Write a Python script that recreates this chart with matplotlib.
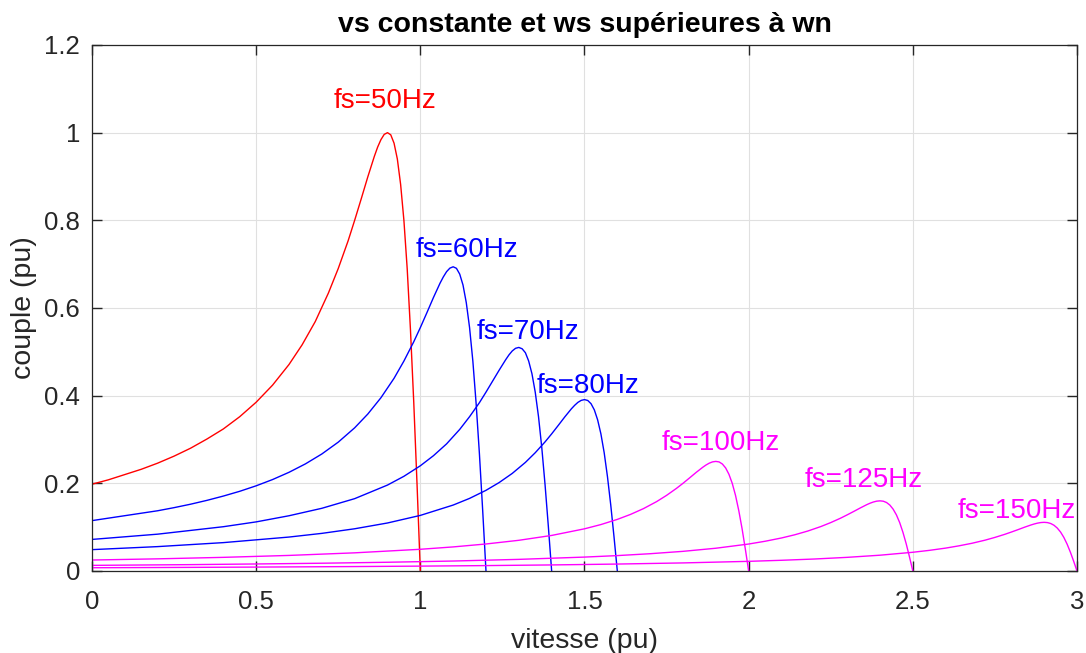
import matplotlib
matplotlib.use("Agg")
import matplotlib.pyplot as plt

# ---- data (speed pu, torque pu) ----
speed_50 = [1.0, 0.99, 0.98, 0.97, 0.96, 0.95, 0.94, 0.93, 0.92, 0.91, 0.90, 0.89, 0.88, 0.87, 0.86, 0.84, 0.82, 0.80, 0.78, 0.75, 0.72, 0.68, 0.64, 0.60, 0.55, 0.50, 0.45, 0.40, 0.35, 0.30, 0.25, 0.20, 0.15, 0.10, 0.05, 0.0]
torque_50 = [0, 0.198, 0.385, 0.550, 0.690, 0.800, 0.882, 0.940, 0.976, 0.995, 1.000, 0.996, 0.984, 0.967, 0.946, 0.899, 0.849, 0.800, 0.753, 0.690, 0.634, 0.569, 0.516, 0.471, 0.424, 0.385, 0.352, 0.324, 0.301, 0.280, 0.262, 0.246, 0.232, 0.220, 0.208, 0.198]

speed_60 = [1.2, 1.19, 1.18, 1.17, 1.16, 1.15, 1.14, 1.13, 1.12, 1.11, 1.10, 1.09, 1.08, 1.07, 1.06, 1.04, 1.02, 1.00, 0.98, 0.95, 0.92, 0.88, 0.84, 0.80, 0.75, 0.70, 0.65, 0.60, 0.55, 0.50, 0.45, 0.40, 0.35, 0.30, 0.25, 0.20, 0.0]
torque_60 = [0, 0.1374, 0.2672, 0.3817, 0.4789, 0.5552, 0.6121, 0.6524, 0.6773, 0.6905, 0.694, 0.6909, 0.6829, 0.6708, 0.6565, 0.6239, 0.5892, 0.5552, 0.5229, 0.4789, 0.4396, 0.3952, 0.3580, 0.3266, 0.2939, 0.2669, 0.2443, 0.2251, 0.2086, 0.1943, 0.1818, 0.1709, 0.1611, 0.1523, 0.1445, 0.1374, 0.1149]

speed_70 = [1.40, 1.39, 1.38, 1.37, 1.36, 1.35, 1.34, 1.33, 1.32, 1.31, 1.30, 1.29, 1.28, 1.27, 1.26, 1.24, 1.22, 1.20, 1.18, 1.15, 1.12, 1.08, 1.04, 1.00, 0.95, 0.90, 0.80, 0.70, 0.60, 0.50, 0.40, 0.20, 0.0]
torque_70 = [0, 0.101, 0.196, 0.281, 0.352, 0.408, 0.450, 0.479, 0.498, 0.507, 0.510, 0.508, 0.502, 0.493, 0.482, 0.458, 0.433, 0.408, 0.384, 0.352, 0.323, 0.290, 0.263, 0.240, 0.216, 0.196, 0.165, 0.143, 0.126, 0.112, 0.101, 0.084, 0.072]

speed_80 = [1.60, 1.59, 1.58, 1.57, 1.56, 1.55, 1.54, 1.53, 1.52, 1.51, 1.50, 1.49, 1.48, 1.47, 1.46, 1.44, 1.42, 1.40, 1.38, 1.35, 1.32, 1.28, 1.24, 1.20, 1.15, 1.10, 1.00, 0.90, 0.80, 0.70, 0.60, 0.40, 0.20, 0.0]
torque_80 = [0, 0.0774, 0.1505, 0.2151, 0.2698, 0.3128, 0.3449, 0.3675, 0.3816, 0.3890, 0.391, 0.3892, 0.3847, 0.3779, 0.3699, 0.3515, 0.3320, 0.3128, 0.2946, 0.2698, 0.2477, 0.2226, 0.2017, 0.1840, 0.1656, 0.1504, 0.1268, 0.1095, 0.0963, 0.0858, 0.0774, 0.0647, 0.0556, 0.0487]

speed_100 = [2.00, 1.99, 1.98, 1.97, 1.96, 1.95, 1.94, 1.93, 1.92, 1.91, 1.90, 1.89, 1.88, 1.87, 1.86, 1.84, 1.82, 1.80, 1.78, 1.75, 1.72, 1.68, 1.64, 1.60, 1.55, 1.50, 1.40, 1.30, 1.20, 1.10, 1.00, 0.80, 0.60, 0.40, 0.20, 0.0]
torque_100 = [0, 0.0495, 0.0963, 0.1375, 0.1725, 0.2, 0.2205, 0.235, 0.244, 0.2488, 0.25, 0.2489, 0.246, 0.2417, 0.2365, 0.2248, 0.2123, 0.2, 0.1884, 0.1725, 0.1584, 0.1424, 0.1290, 0.1177, 0.1059, 0.0962, 0.0811, 0.07, 0.0616, 0.0549, 0.0495, 0.0414, 0.0355, 0.0311, 0.0277, 0.0250]

speed_125 = [2.50, 2.49, 2.48, 2.47, 2.46, 2.45, 2.44, 2.43, 2.42, 2.41, 2.40, 2.39, 2.38, 2.37, 2.36, 2.34, 2.32, 2.30, 2.28, 2.25, 2.22, 2.18, 2.14, 2.10, 2.05, 2.00, 1.90, 1.80, 1.70, 1.60, 1.50, 1.30, 1.10, 0.90, 0.70, 0.50, 0.30, 0.0]
torque_125 = [0, 0.0317, 0.0616, 0.088, 0.1104, 0.128, 0.1411, 0.1504, 0.1562, 0.1592, 0.16, 0.1593, 0.1574, 0.1547, 0.1514, 0.1438, 0.1358, 0.128, 0.1205, 0.1104, 0.1014, 0.0911, 0.0825, 0.0753, 0.0678, 0.0615, 0.0519, 0.0448, 0.0394, 0.0351, 0.0317, 0.0265, 0.0227, 0.0199, 0.0177, 0.0160, 0.0145, 0.0128]

speed_150 = [3.00, 2.99, 2.98, 2.97, 2.96, 2.95, 2.94, 2.93, 2.92, 2.91, 2.90, 2.89, 2.88, 2.87, 2.86, 2.84, 2.82, 2.80, 2.78, 2.75, 2.72, 2.68, 2.64, 2.60, 2.55, 2.50, 2.40, 2.30, 2.20, 2.10, 2.00, 1.80, 1.60, 1.40, 1.20, 1.00, 0.80, 0.50, 0.20, 0.0]
torque_150 = [0, 0.0220, 0.0427, 0.0611, 0.0766, 0.0888, 0.0979, 0.1043, 0.1083, 0.1104, 0.111, 0.1105, 0.1092, 0.1073, 0.1050, 0.0998, 0.0942, 0.0888, 0.0836, 0.0766, 0.0703, 0.0632, 0.0573, 0.0522, 0.0470, 0.0427, 0.0360, 0.0311, 0.0273, 0.0244, 0.0220, 0.0184, 0.0158, 0.0138, 0.0123, 0.0111, 0.0101, 0.0089, 0.0079, 0.0074]

labels = ["fs=50Hz", "fs=60Hz", "fs=70Hz", "fs=80Hz", "fs=100Hz", "fs=125Hz", "fs=150Hz"]
label_x = [0.735, 0.985, 1.17, 1.355, 1.735, 2.17, 2.635]
label_y = [1.072, 0.732, 0.545, 0.422, 0.292, 0.208, 0.137]

x_ticks = [0, 0.5, 1, 1.5, 2, 2.5, 3]
x_tick_labels = ["0", "0.5", "1", "1.5", "2", "2.5", "3"]
y_ticks = [0, 0.2, 0.4, 0.6, 0.8, 1.0, 1.2]
y_tick_labels = ["0", "0.2", "0.4", "0.6", "0.8", "1", "1.2"]

RED = "#ff0000"
BLUE = "#0000ff"
MAG = "#ff00ff"
curves = [
    (speed_50, torque_50, RED),
    (speed_60, torque_60, BLUE),
    (speed_70, torque_70, BLUE),
    (speed_80, torque_80, BLUE),
    (speed_100, torque_100, MAG),
    (speed_125, torque_125, MAG),
    (speed_150, torque_150, MAG),
]

plt.rcParams['font.family'] = ['Liberation Sans', 'DejaVu Sans']

fig = plt.figure(figsize=(10.86, 6.53), dpi=100)
ax = fig.add_axes([0.0847, 0.1256, 0.9070, 0.8055])

for (sx, ty, c), lab, lx, ly in zip(curves, labels, label_x, label_y):
    ax.plot(sx, ty, color=c, linewidth=1.0)
    ax.text(lx, ly, lab, color=c, fontsize=20, ha='left', va='center')

ax.set_xlim(0, 3)
ax.set_ylim(0, 1.2)
ax.set_xticks(x_ticks)
ax.set_xticklabels(x_tick_labels)
ax.set_yticks(y_ticks)
ax.set_yticklabels(y_tick_labels)
ax.grid(True, color='#e0e0e0', linewidth=0.8)
ax.set_axisbelow(True)
axc = '#262626'
for s in ax.spines.values():
    s.set_color(axc)
    s.set_linewidth(0.9)
ax.tick_params(direction='in', length=7, width=1.0, colors=axc, labelsize=18.5,
               top=True, right=True, labeltop=False, labelright=False)
ax.tick_params(axis='x', pad=13.5)
ax.tick_params(axis='y', pad=8.5)
ax.set_xlabel("vitesse (pu)", fontsize=20.5, color=axc, labelpad=10)
ax.set_ylabel("couple (pu)", fontsize=20.5, color=axc, labelpad=5)
ax.set_title("vs constante et ws supérieures à wn", fontsize=20.5, fontweight='bold',
             color='black', pad=9)

fig.savefig("out.png", dpi=100)
